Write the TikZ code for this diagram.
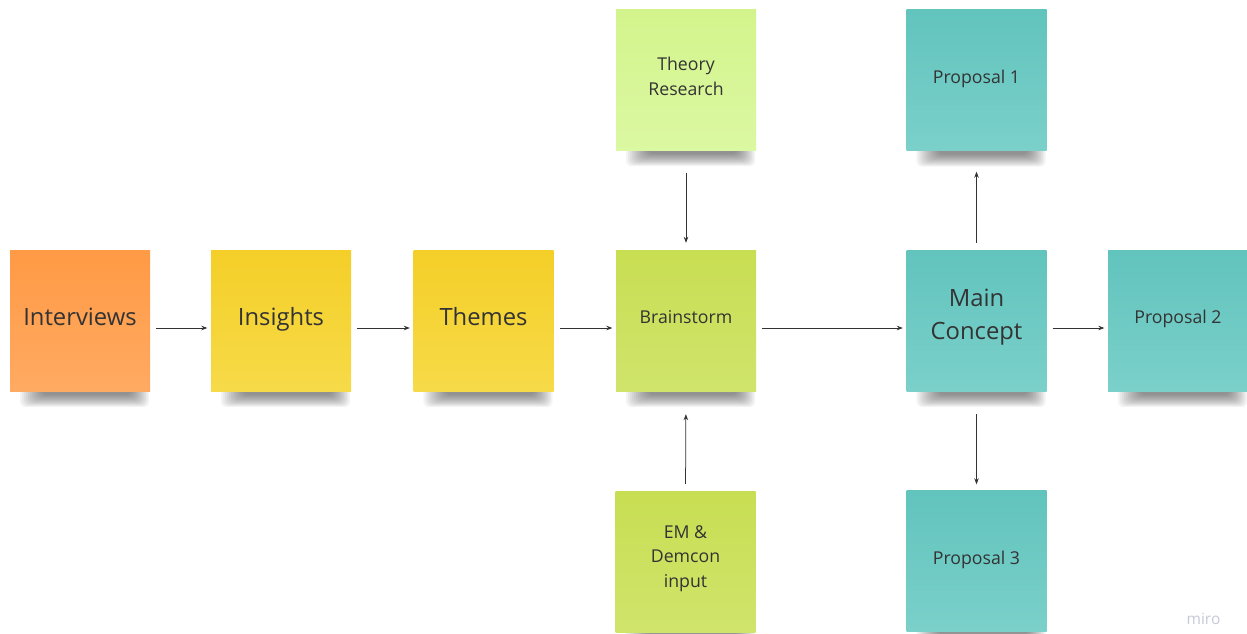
\documentclass[tikz,border=0pt]{standalone}
\usepackage{fontspec}
\setmainfont{Open Sans}
\usetikzlibrary{arrows.meta}

\definecolor{ink}{HTML}{333333}
\definecolor{orangeA}{HTML}{FF9A45}\definecolor{orangeB}{HTML}{FFAA62}
\definecolor{yellowA}{HTML}{F5CF28}\definecolor{yellowB}{HTML}{F6DA48}
\definecolor{limeA}{HTML}{C8DE52}\definecolor{limeB}{HTML}{D0E46C}
\definecolor{paleA}{HTML}{D3F48C}\definecolor{paleB}{HTML}{DBF8A2}
\definecolor{tealA}{HTML}{61C4BD}\definecolor{tealB}{HTML}{7BD0CA}
\definecolor{miroGray}{HTML}{C9C9D9}

\pgfdeclarelayer{paper}
\pgfdeclarelayer{shade}
\pgfsetlayers{paper,shade,main}

\tikzset{
  note/.style={rectangle, minimum width=140pt, minimum height=141pt, inner sep=0pt},
  orangenote/.style={note, top color=orangeA, bottom color=orangeB},
  yellownote/.style={note, top color=yellowA, bottom color=yellowB},
  limenote/.style={note, top color=limeA, bottom color=limeB},
  palenote/.style={note, top color=paleA, bottom color=paleB},
  tealnote/.style={note, top color=tealA, bottom color=tealB},
  shadowpiece/.style={fill=black, opacity=0.045, rounded corners=6pt},
  bigtxt/.style={text=ink, align=center, font=\fontsize{23.8}{33}\selectfont},
  smalltxt/.style={text=ink, align=center, font=\fontsize{17.7}{24.5}\selectfont},
  oneline/.style={text height=0.72em, text depth=0.24em},
  arr/.style={draw=ink, line width=0.75pt, -{Stealth[length=6pt,width=4.5pt]}},
}

% soft drop shadow under the lower edge of a note
\newcommand{\noteshadow}[1]{%
  \begin{pgfonlayer}{shade}
    \foreach \i in {0,...,11}{
      \fill[shadowpiece]
        ([xshift={10pt+\i*2pt}, yshift={-16pt+\i*1.1pt}]#1.south west)
        rectangle ([xshift={-1pt-\i*1.6pt}, yshift=8pt]#1.south east);
    }
  \end{pgfonlayer}}

\begin{document}
\begin{tikzpicture}[x=1pt, y=-1pt]
\useasboundingbox (0,0) rectangle (1247,633);
\begin{pgfonlayer}{paper}
  \fill[white] (0,0) rectangle (1247,633);
\end{pgfonlayer}

% sticky notes
\node[orangenote] (interviews) at (80,320.5) {};
\node[yellownote] (insights)   at (281,320.5) {};
\node[yellownote] (themes)     at (483.5,320.5) {};
\node[limenote]   (brainstorm) at (686,320.5) {};
\node[palenote]   (theory)     at (686,79.5) {};
\node[limenote]   (em)         at (685.5,561.5) {};
\node[tealnote]   (main)       at (976.5,320.5) {};
\node[tealnote]   (prop1)      at (976.5,80) {};
\node[tealnote]   (prop2)      at (1178,320.5) {};
\node[tealnote]   (prop3)      at (976.5,561) {};

\foreach \n in {interviews,insights,themes,brainstorm,theory,em,main,prop1,prop2,prop3}
  {\noteshadow{\n}}

% note texts
\node[bigtxt, oneline]   (tInterviews) at ([yshift=-2.5pt]interviews.center) {Interviews};
\node[bigtxt, oneline]   (tInsights)   at ([yshift=-2.5pt]insights.center) {Insights};
\node[bigtxt, oneline]   (tThemes)     at ([yshift=-2.5pt]themes.center) {Themes};
\node[smalltxt, oneline] (tBrainstorm) at ([yshift=-0.5pt]brainstorm.center) {Brainstorm};
\node[smalltxt] (tTheory)     at ([yshift=3pt]theory.center) {Theory\\Research};
\node[smalltxt] (tEm)         at ([yshift=3pt]em.center) {EM \&\\Demcon\\input};
\node[bigtxt]   (tMain)       at ([yshift=3pt]main.center) {Main\\Concept};
\node[smalltxt, oneline] (tProp1) at ([yshift=-1pt]prop1.center) {Proposal 1};
\node[smalltxt, oneline] (tProp2) at ([yshift=-1pt]prop2.center) {Proposal 2};
\node[smalltxt, oneline] (tProp3) at ([yshift=-1pt]prop3.center) {Proposal 3};

% horizontal flow
\draw[arr, shorten <=6pt, shorten >=3.5pt] ([yshift=-7.5pt]interviews.east) -- ([yshift=-7.5pt]insights.west);
\draw[arr, shorten <=6pt, shorten >=3.5pt] ([yshift=-7.5pt]insights.east) -- ([yshift=-7.5pt]themes.west);
\draw[arr, shorten <=6pt, shorten >=3.5pt] ([yshift=-7.5pt]themes.east) -- ([yshift=-7.5pt]brainstorm.west);
\draw[arr, shorten <=6pt, shorten >=3.5pt] ([yshift=-7.5pt]brainstorm.east) -- ([yshift=-7.5pt]main.west);
\draw[arr, shorten <=6pt, shorten >=3.5pt] ([yshift=-7.5pt]main.east) -- ([yshift=-7.5pt]prop2.west);

% vertical flow
\draw[arr, shorten <=23pt, shorten >=7pt] (theory.south) -- (brainstorm.north);
\draw[arr, shorten <=7pt, shorten >=23pt] (em.north) -- (brainstorm.south);
\draw[arr, shorten <=7pt, shorten >=21pt] (main.north) -- (prop1.south);
\draw[arr, shorten <=23pt, shorten >=6pt] (main.south) -- (prop3.north);

% watermark
\node[text=miroGray, font=\fontsize{15.5}{15.5}\selectfont, anchor=center] (miro) at (1203.5,618.5) {miro};
\end{tikzpicture}
\end{document}
